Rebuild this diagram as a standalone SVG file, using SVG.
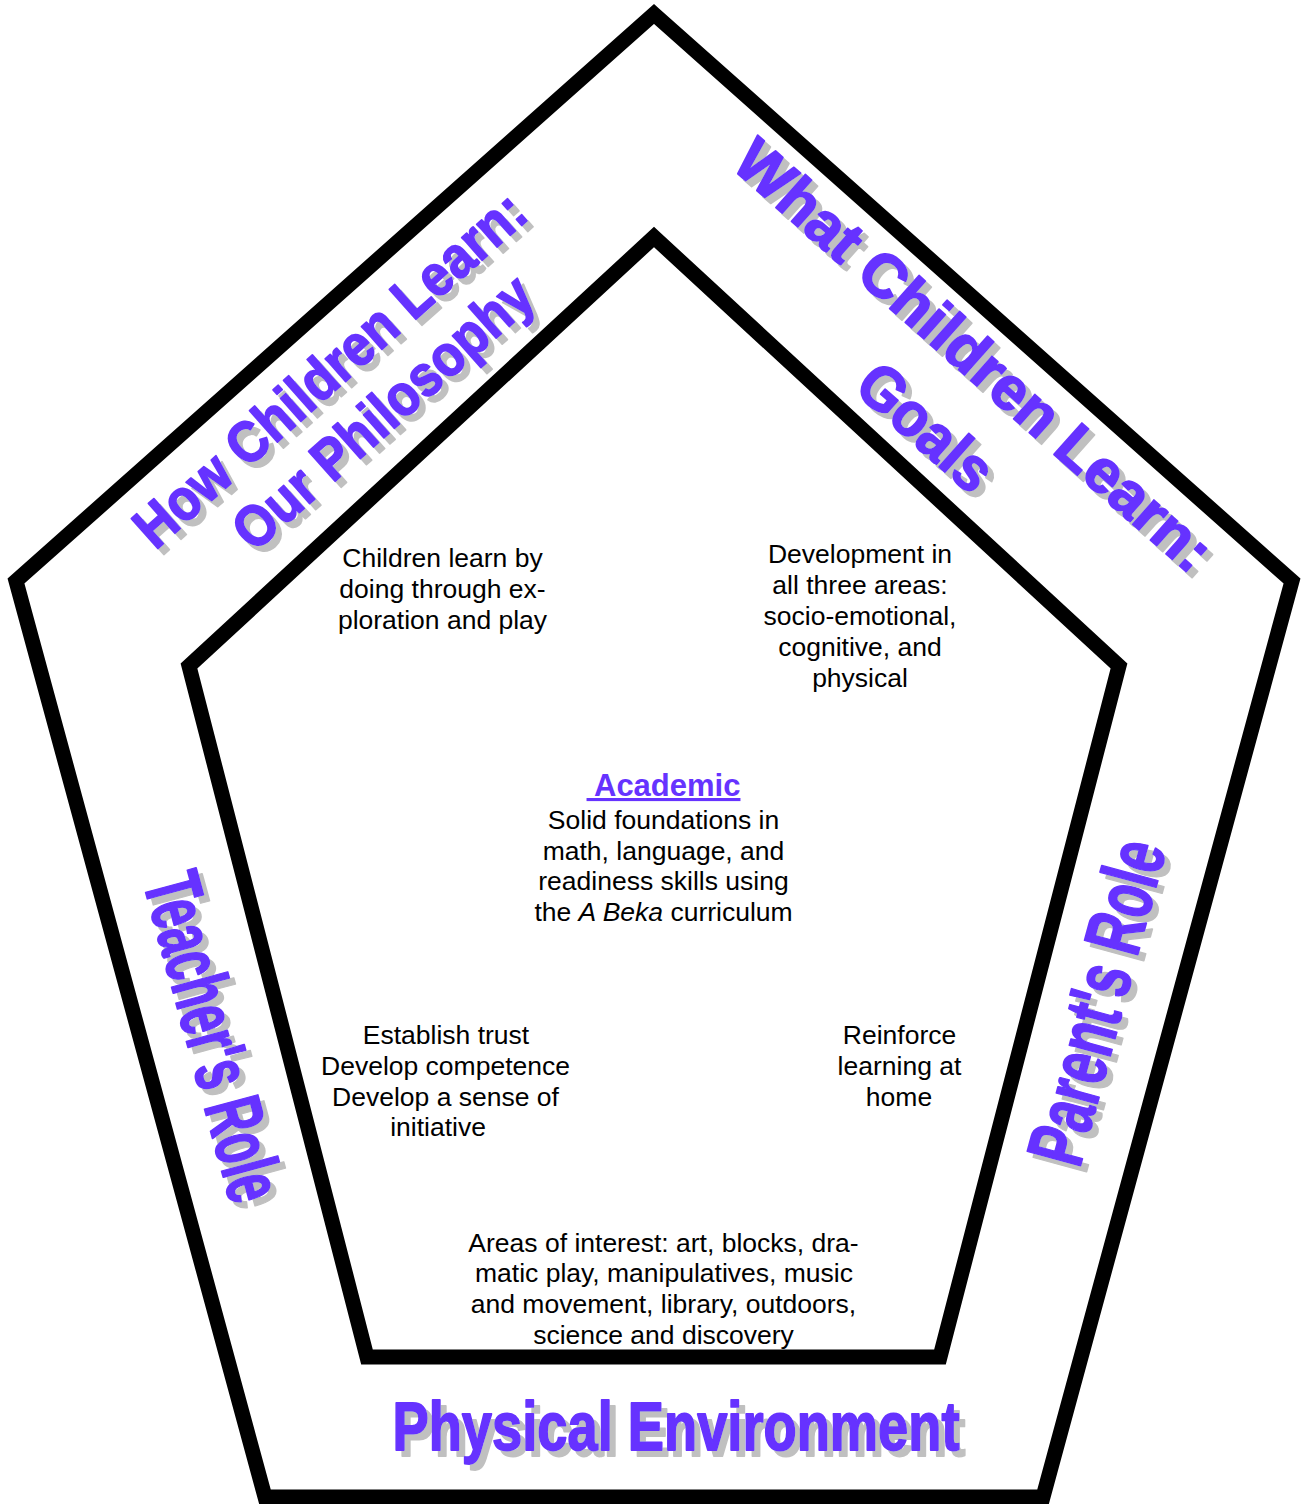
<svg xmlns="http://www.w3.org/2000/svg" width="1303" height="1504" viewBox="0 0 1303 1504">
  <style>
    .frame { fill: none; stroke: #000; stroke-width: 15; stroke-linejoin: miter; stroke-miterlimit: 10; }
    .wa { font-family: "Liberation Sans", Arial, sans-serif; font-weight: bold; fill: #6633FF; stroke: #6633FF; stroke-width: 1.8; stroke-linejoin: round; text-anchor: middle; }
    .body { font-family: "Liberation Sans", Arial, sans-serif; font-size: 26.5px; fill: #000; text-anchor: middle; }
    .head { font-family: "Liberation Sans", Arial, sans-serif; font-size: 31px; font-weight: bold; fill: #6633FF; text-anchor: middle; text-decoration: underline; }
  </style>
  <defs>
    <filter id="shadow" x="-15%" y="-15%" width="140%" height="140%" filterUnits="objectBoundingBox">
      <feOffset in="SourceAlpha" dx="6" dy="6" result="off"/>
      <feFlood flood-color="#C0C0C0" result="grey"/>
      <feComposite in="grey" in2="off" operator="in" result="sh"/>
      <feMerge>
        <feMergeNode in="sh"/>
        <feMergeNode in="SourceGraphic"/>
      </feMerge>
    </filter>
  </defs>
  <rect width="1303" height="1504" fill="#fff"/>

  <g id="outer-pentagon">
    <polygon class="frame" points="654,14 1292,581 1043,1497 265,1497 16,581"/>
  </g>
  <g id="inner-pentagon">
    <polygon class="frame" points="654,237 1119,666 940,1357 367,1357 189,666"/>
  </g>

  <g id="connectors"/>

  <g id="how-children-learn" filter="url(#shadow)">
    <text class="wa" font-size="58" transform="translate(343,384) rotate(-41.6)" textLength="502" lengthAdjust="spacingAndGlyphs">How Children Learn:</text>
    <text class="wa" font-size="58" transform="translate(396,427) rotate(-41.6)" textLength="380" lengthAdjust="spacingAndGlyphs">Our Philosophy</text>
  </g>

  <g id="what-children-learn" filter="url(#shadow)">
    <text class="wa" font-size="61" transform="translate(960,371) rotate(41.6)" textLength="616" lengthAdjust="spacingAndGlyphs">What Children Learn:</text>
    <text class="wa" font-size="62" transform="translate(912,443) rotate(41.6)" textLength="160" lengthAdjust="spacingAndGlyphs">Goals</text>
  </g>

  <g id="teachers-role" filter="url(#shadow)">
    <text class="wa" font-size="80" transform="translate(187,1044) rotate(74.8)" textLength="337" lengthAdjust="spacingAndGlyphs">Teacher's Role</text>
  </g>

  <g id="parents-role" filter="url(#shadow)">
    <text class="wa" font-size="80" transform="translate(1123,1009) rotate(-74.8)" textLength="332" lengthAdjust="spacingAndGlyphs">Parent's Role</text>
  </g>

  <g id="physical-environment" filter="url(#shadow)">
    <text class="wa" font-size="69" x="676" y="1450" textLength="567" lengthAdjust="spacingAndGlyphs">Physical Environment</text>
  </g>

  <g id="philosophy-text">
    <text class="body" x="442.5" y="567">Children learn by</text>
    <text class="body" x="442.5" y="598">doing through ex-</text>
    <text class="body" x="442.5" y="629">ploration and play</text>
  </g>

  <g id="goals-text">
    <text class="body" x="860" y="563">Development in</text>
    <text class="body" x="860" y="594">all three areas:</text>
    <text class="body" x="860" y="625">socio-emotional,</text>
    <text class="body" x="860" y="656">cognitive, and</text>
    <text class="body" x="860" y="687">physical</text>
  </g>

  <g id="academic">
    <text class="head" x="663.5" y="796" xml:space="preserve"> Academic</text>
    <text class="body" x="663.5" y="829">Solid foundations in</text>
    <text class="body" x="663.5" y="860">math, language, and</text>
    <text class="body" x="663.5" y="890">readiness skills using</text>
    <text class="body" x="663.5" y="921">the <tspan font-style="italic">A Beka</tspan> curriculum</text>
  </g>

  <g id="teacher-text">
    <text class="body" x="446" y="1044">Establish trust</text>
    <text class="body" x="445.5" y="1075">Develop competence</text>
    <text class="body" x="445.5" y="1106">Develop a sense of</text>
    <text class="body" x="438" y="1136">initiative</text>
  </g>

  <g id="parent-text">
    <text class="body" x="899.5" y="1044">Reinforce</text>
    <text class="body" x="899.5" y="1075">learning at</text>
    <text class="body" x="899" y="1106">home</text>
  </g>

  <g id="environment-text">
    <text class="body" x="663.5" y="1252">Areas of interest: art, blocks, dra-</text>
    <text class="body" x="664" y="1282">matic play, manipulatives, music</text>
    <text class="body" x="663.5" y="1313">and movement, library, outdoors,</text>
    <text class="body" x="663.5" y="1344">science and discovery</text>
  </g>
</svg>
